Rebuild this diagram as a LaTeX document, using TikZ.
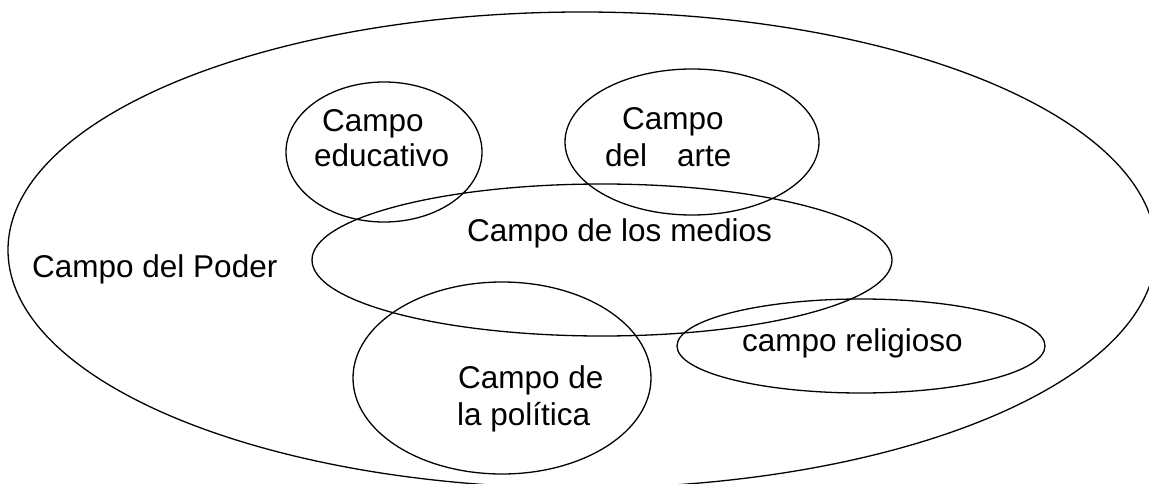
\documentclass[tikz,border=0pt]{standalone}
\usepackage{fontspec}
\setmainfont{Liberation Sans}
\begin{document}
\begin{tikzpicture}[x=1pt,y=-1pt,
  fld/.style={draw=black,line width=1.3pt},
  lbl/.style={inner sep=0pt,anchor=base west,font=\fontsize{31.5}{37}\selectfont}]
\useasboundingbox (0,0) rectangle (1149,484);
\begin{scope}
\clip (0,0) rectangle (1149,484);
\draw[fld] (582,250) ellipse [x radius=574,y radius=238];
\end{scope}
\draw[fld] (384,152) ellipse [x radius=98,y radius=70];
\draw[fld] (692,142) ellipse [x radius=127,y radius=73];
\draw[fld] (602,260) ellipse [x radius=290,y radius=76];
\draw[fld] (502,378) ellipse [x radius=149,y radius=96];
\draw[fld] (861,346) ellipse [x radius=184,y radius=47];
\node[lbl] (poder) at (32,277) {Campo del Poder};
\node[lbl] (edu1) at (322,132) {Campo};
\node[lbl] (edu2) at (314,167) {educativo};
\node[lbl] (arte1) at (622,130) {Campo};
\node[lbl] (arte2) at (605,167) {del\hspace{30pt}arte};
\node[lbl] (medios) at (467,241) {Campo de los medios};
\node[lbl] (relig) at (742,351) {campo religioso};
\node[lbl] (pol1) at (458,388) {Campo de};
\node[lbl] (pol2) at (457,425) {la política};
\end{tikzpicture}
\end{document}
